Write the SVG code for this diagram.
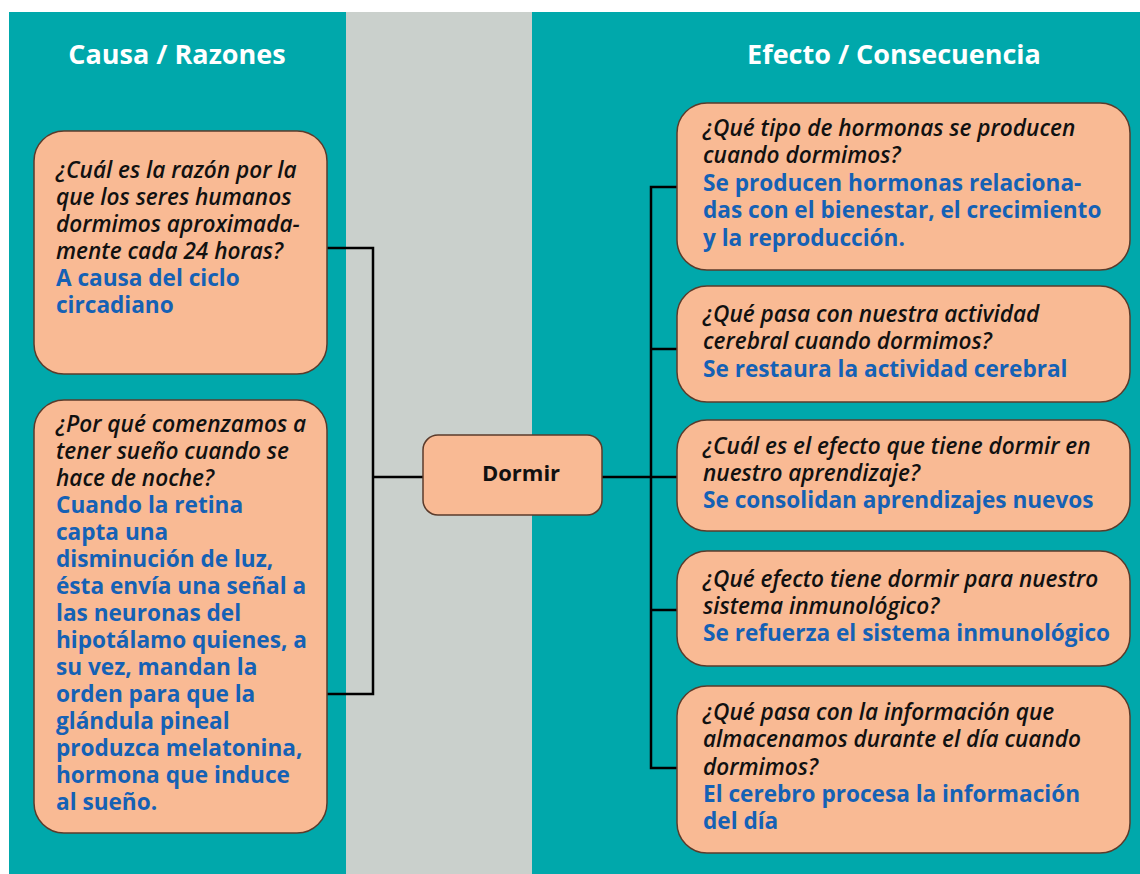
<svg xmlns="http://www.w3.org/2000/svg" width="1140" height="874" viewBox="0 0 1140 874">
<style>
.q{font-family:"Open Sans","Noto Sans",sans-serif;font-size:22.6px;font-style:italic;font-weight:600;fill:#111}
.a{font-family:"Open Sans","Noto Sans",sans-serif;font-size:22.6px;font-weight:bold;fill:#1561b5}
.h{font-family:"Open Sans","Noto Sans",sans-serif;font-size:27px;font-weight:bold;fill:#fff}
.box{fill:#f9ba94;stroke:#5b3b2b;stroke-width:1.5}
.ln{fill:none;stroke:#000;stroke-width:2.5}
</style>
<rect x="0" y="0" width="1140" height="874" fill="#fff"/>
<rect x="9" y="12" width="337" height="862" fill="#00a8ab"/>
<rect x="346" y="12" width="186" height="862" fill="#cad0cc"/>
<rect x="532" y="12" width="608" height="862" fill="#00a8ab"/>
<text class="h" x="177" y="64" text-anchor="middle">Causa / Razones</text>
<text class="h" x="894" y="64" text-anchor="middle">Efecto / Consecuencia</text>
<g id="connectors">
<path class="ln" d="M327 248H373V694H327"/>
<path class="ln" d="M373 477H423"/>
<path class="ln" d="M602 477H651"/>
<path class="ln" d="M677 187H651V768H677"/>
<path class="ln" d="M651 349H677M651 477H677M651 610H677"/>
</g>
<g id="cause1">
<rect class="box" x="34" y="131" width="293" height="243" rx="30"/>
<text class="q" x="56" y="178">¿Cuál es la razón por la</text>
<text class="q" x="56" y="205">que los seres humanos</text>
<text class="q" x="56" y="232">dormimos aproximada-</text>
<text class="q" x="56" y="259">mente cada 24 horas?</text>
<text class="a" x="56" y="286">A causa del ciclo</text>
<text class="a" x="56" y="313">circadiano</text>
</g>
<g id="cause2">
<rect class="box" x="34" y="400" width="293" height="433" rx="30"/>
<text class="q" x="56" y="432">¿Por qué comenzamos a</text>
<text class="q" x="56" y="459">tener sueño cuando se</text>
<text class="q" x="56" y="486">hace de noche?</text>
<text class="a" x="56" y="513">Cuando la retina</text>
<text class="a" x="56" y="540">capta una</text>
<text class="a" x="56" y="567">disminución de luz,</text>
<text class="a" x="56" y="594">ésta envía una señal a</text>
<text class="a" x="56" y="621">las neuronas del</text>
<text class="a" x="56" y="648">hipotálamo quienes, a</text>
<text class="a" x="56" y="675">su vez, mandan la</text>
<text class="a" x="56" y="702">orden para que la</text>
<text class="a" x="56" y="729">glándula pineal</text>
<text class="a" x="56" y="756">produzca melatonina,</text>
<text class="a" x="56" y="783">hormona que induce</text>
<text class="a" x="56" y="810">al sueño.</text>
</g>
<g id="dormir">
<rect class="box" x="423" y="435" width="179" height="80" rx="15"/>
<text x="521" y="481" text-anchor="middle" style="font-family:'Open Sans','Noto Sans',sans-serif;font-size:22px;font-weight:bold;fill:#111">Dormir</text>
</g>
<g id="effect1">
<rect class="box" x="677" y="103" width="453" height="167" rx="30"/>
<text class="q" x="703" y="136">¿Qué tipo de hormonas se producen</text>
<text class="q" x="703" y="163">cuando dormimos?</text>
<text class="a" x="703" y="191">Se producen hormonas relaciona-</text>
<text class="a" x="703" y="218">das con el bienestar, el crecimiento</text>
<text class="a" x="703" y="246">y la reproducción.</text>
</g>
<g id="effect2">
<rect class="box" x="677" y="286" width="453" height="116" rx="30"/>
<text class="q" x="703" y="322">¿Qué pasa con nuestra actividad</text>
<text class="q" x="703" y="349">cerebral cuando dormimos?</text>
<text class="a" x="703" y="377">Se restaura la actividad cerebral</text>
</g>
<g id="effect3">
<rect class="box" x="677" y="420" width="453" height="111" rx="30"/>
<text class="q" x="703" y="454">¿Cuál es el efecto que tiene dormir en</text>
<text class="q" x="703" y="481">nuestro aprendizaje?</text>
<text class="a" x="703" y="508">Se consolidan aprendizajes nuevos</text>
</g>
<g id="effect4">
<rect class="box" x="677" y="551" width="453" height="115" rx="30"/>
<text class="q" x="703" y="587">¿Qué efecto tiene dormir para nuestro</text>
<text class="q" x="703" y="614">sistema inmunológico?</text>
<text class="a" x="703" y="641">Se refuerza el sistema inmunológico</text>
</g>
<g id="effect5">
<rect class="box" x="677" y="686" width="453" height="167" rx="30"/>
<text class="q" x="703" y="720">¿Qué pasa con la información que</text>
<text class="q" x="703" y="747">almacenamos durante el día cuando</text>
<text class="q" x="703" y="775">dormimos?</text>
<text class="a" x="703" y="802">El cerebro procesa la información</text>
<text class="a" x="703" y="829">del día</text>
</g>
</svg>
